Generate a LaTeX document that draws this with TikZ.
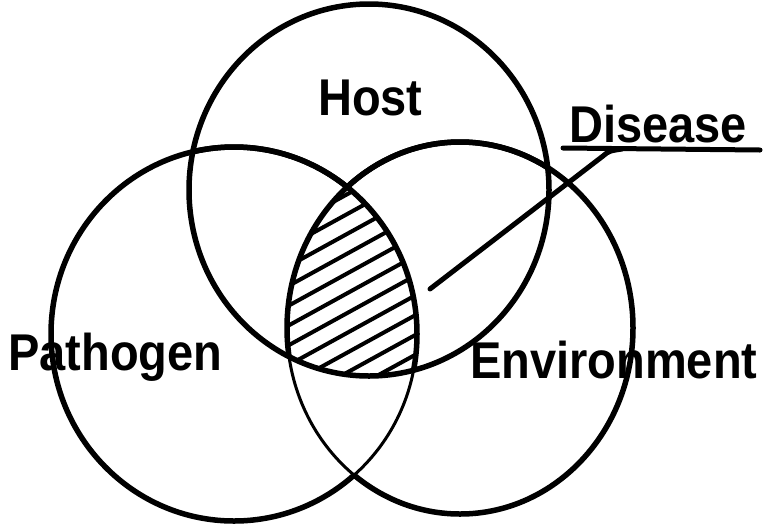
\documentclass[tikz,border=0pt]{standalone}
\usepackage{fontspec}
\setmainfont{Liberation Sans}
\usepackage{graphicx}
\begin{document}
\begin{tikzpicture}[x=1pt,y=-1pt,
  ring/.style={line width=5.5pt},
  thinring/.style={line width=3pt},
  hatch/.style={line width=4pt},
  lead/.style={line width=5pt, line cap=round},
  lbl/.style={font=\fontsize{47}{50}\selectfont\bfseries, inner sep=0pt, anchor=base west},
]
\useasboundingbox (0,0) rectangle (767,528);
% the three sets
\def\hostE{(369,190) ellipse [x radius=180, y radius=186]}
\def\pathE{(234,334) ellipse [x radius=183, y radius=187]}
\def\envE{(460,328) ellipse [x radius=173, y radius=186]}
\def\bigR{(-50,-50) rectangle (820,580)}

% hatched common part
\begin{scope}
  \clip \hostE;
  \clip \pathE;
  \clip \envE;
  \foreach \k in {-1,...,11} {
    \pgfmathsetmacro\c{405+19.8*\k}
    \draw[hatch] (260,{\c-143}) -- (450,{\c-247.5});
  }
\end{scope}

% host ring
\draw[ring] \hostE;

% pathogen ring: thin where it lies in the environment below the host
\draw[thinring] \pathE;
\begin{scope}
  \clip \hostE;
  \draw[ring] \pathE;
\end{scope}
\begin{scope}[even odd rule]
  \clip \bigR \envE;
  \draw[ring] \pathE;
\end{scope}

% environment ring: same treatment
\draw[thinring] \envE;
\begin{scope}
  \clip \hostE;
  \draw[ring] \envE;
\end{scope}
\begin{scope}[even odd rule]
  \clip \bigR \pathE;
  \draw[ring] \envE;
\end{scope}

% labels
\node[lbl] (host) at (318,115) {\scalebox{1}[1.1]{Host}};
\node[lbl] (path) at (8,370) {\scalebox{1}[1.1]{Pathogen}};
\node[lbl] (env) at (470,378) {\scalebox{1}[1.1]{Environment}};
\node[lbl] (dis) at (569,142) {\scalebox{1}[1.1]{Disease}};

% underline and leader to the hatched area
\coordinate (ulA) at (563,148);
\coordinate (ulB) at (760,150);
\coordinate (tip) at (430,289);
\draw[lead] (ulA) -- (ulB);
\draw[lead] (tip) -- (603,156) .. controls (609,151) .. (622,149);
\end{tikzpicture}
\end{document}
